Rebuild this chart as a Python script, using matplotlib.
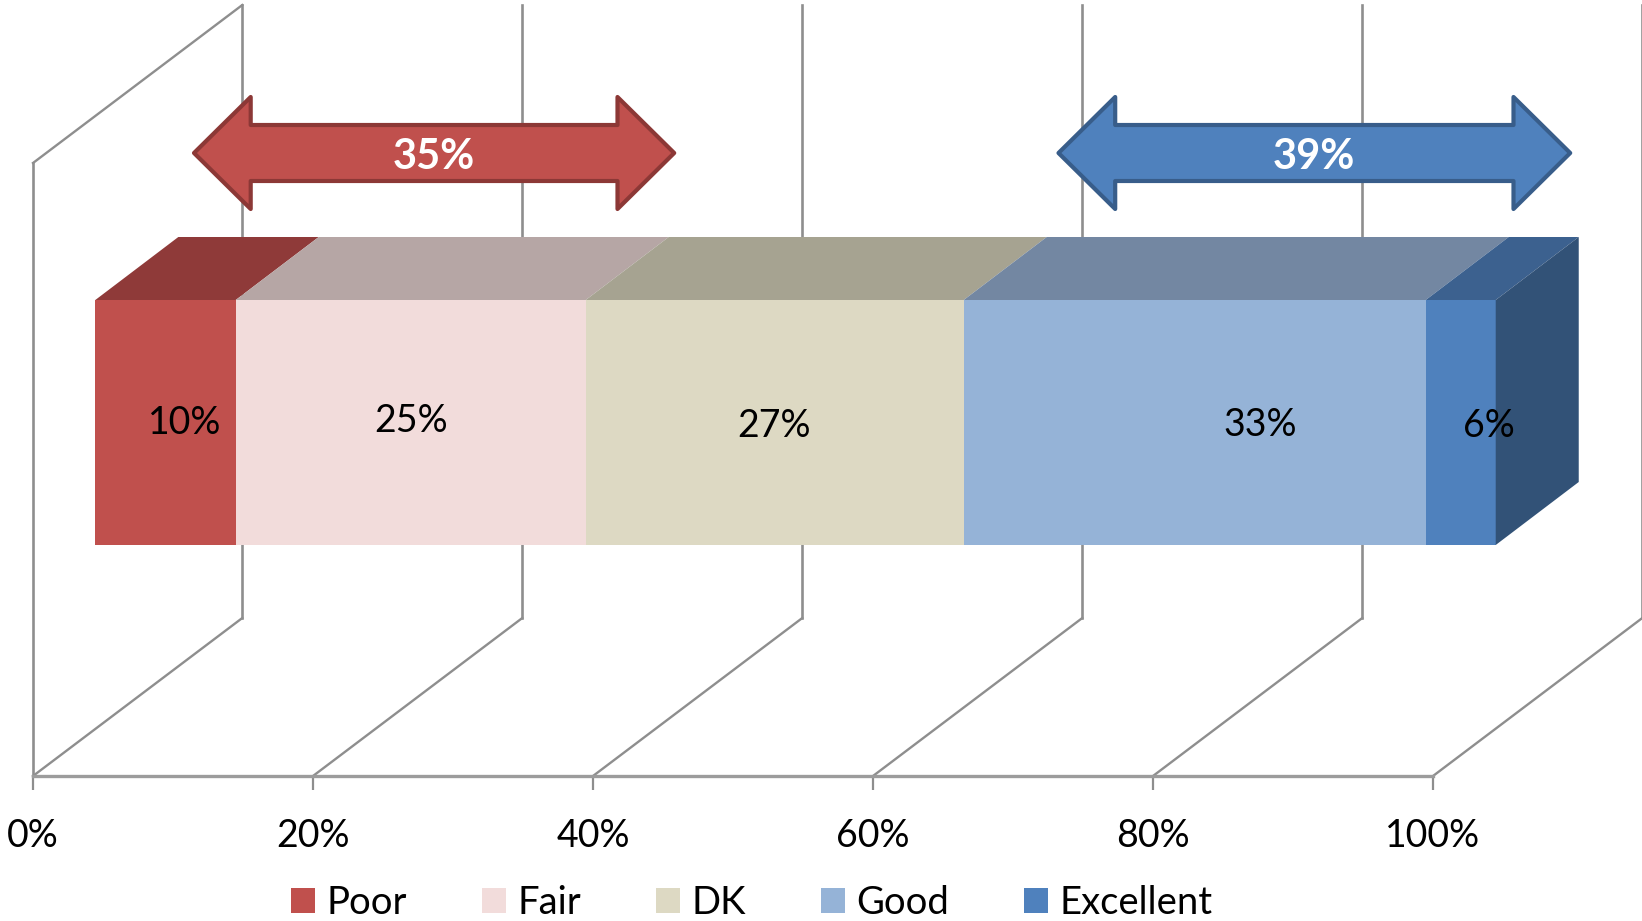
import matplotlib
matplotlib.use("Agg")
import matplotlib.pyplot as plt
import numpy as np
from matplotlib.patches import Polygon

plt.rcParams["font.family"] = ["Lato", "DejaVu Sans"]

# data
categories = ["Poor", "Fair", "DK", "Good", "Excellent"]
shares = [10.03, 25.0, 27.0, 33.0, 5.0]
share_labels = ["10%", "25%", "27%", "33%", "6%"]
tick_values = [0, 20, 40, 60, 80, 100]
tick_labels = ["0%", "20%", "40%", "60%", "80%", "100%"]
span_labels = ["35%", "39%"]
span_starts = [11.5, 73.25]
span_ends = [45.8, 109.8]

# styles
front_colors = ["#C0504D", "#F2DCDB", "#DDD9C3", "#95B3D7", "#4F81BD"]
top_colors = ["#8F3A39", "#B6A6A5", "#A6A391", "#7387A2", "#3C618F"]
side_color = "#325277"
span_fills = ["#C0504D", "#4F81BD"]
span_edges = ["#8C3836", "#385D8A"]
grid_color = "#8E8E8E"
label_x = [10.8, 27.0, 52.9, 87.65, 104.0]
label_y = [423, 421, 426, 425, 426]

# y is measured downward from the top of the canvas, x is in percent
PX_PER_PCT = 14.0
X0_PX = 33
floor_y = 776
back_floor_y = 618
wall_top_front = 163
wall_top_back = 5
wall_dx = 14.95
bar_start = 4.45
bar_top = 300
bar_bottom = 545
depth_x = 5.93
depth_y = 63

fig = plt.figure(figsize=(16.42, 9.21), dpi=100)
ax = fig.add_axes([0, 0, 1, 1])
ax.set_xlim(-X0_PX / PX_PER_PCT, (1642 - X0_PX) / PX_PER_PCT)
ax.set_ylim(921, 0)

# back wall and floor lines
for v in tick_values:
    ax.plot([v, v + wall_dx], [floor_y, back_floor_y], color=grid_color, lw=1.7, zorder=1)
    ax.plot([v + wall_dx] * 2, [back_floor_y, wall_top_back], color=grid_color, lw=1.9, zorder=1)
ax.plot([0, 0], [floor_y, wall_top_front], color=grid_color, lw=1.9, zorder=1)
ax.plot([0, wall_dx], [wall_top_front, wall_top_back], color=grid_color, lw=1.7, zorder=1)

# stacked bar with its top and side faces
lefts = bar_start + np.concatenate([[0], np.cumsum(shares)[:-1]])
for left, w, cat, fc, tc in zip(lefts, shares, categories, front_colors, top_colors):
    ax.barh((bar_top + bar_bottom) / 2, w, left=left, height=bar_bottom - bar_top,
            color=fc, edgecolor="none", label=cat, zorder=3)
    ax.add_patch(Polygon([(left, bar_top), (left + w, bar_top),
                          (left + w + depth_x, bar_top - depth_y), (left + depth_x, bar_top - depth_y)],
                         closed=True, facecolor=tc, edgecolor="none", zorder=3))
bar_end = lefts[-1] + shares[-1]
ax.add_patch(Polygon([(bar_end, bar_top), (bar_end + depth_x, bar_top - depth_y),
                      (bar_end + depth_x, bar_bottom - depth_y), (bar_end, bar_bottom)],
                     closed=True, facecolor=side_color, edgecolor="none", zorder=3))

for x, y, s in zip(label_x, label_y, share_labels):
    ax.text(x, y, s, ha="center", va="center", fontsize=27, color="black", zorder=5)

# double headed span arrows
head_len = 4.05
arrow_mid = 153
shaft_half = 28
head_half = 56
for start, end, s, fc, ec in zip(span_starts, span_ends, span_labels, span_fills, span_edges):
    pts = [
        (start, arrow_mid),
        (start + head_len, arrow_mid - head_half),
        (start + head_len, arrow_mid - shaft_half),
        (end - head_len, arrow_mid - shaft_half),
        (end - head_len, arrow_mid - head_half),
        (end, arrow_mid),
        (end - head_len, arrow_mid + head_half),
        (end - head_len, arrow_mid + shaft_half),
        (start + head_len, arrow_mid + shaft_half),
        (start + head_len, arrow_mid + head_half),
    ]
    ax.add_patch(Polygon(pts, closed=True, facecolor=fc, edgecolor=ec, lw=3,
                         joinstyle="round", zorder=4))
    ax.text((start + end) / 2, arrow_mid + 4, s, ha="center", va="center", fontsize=30,
            fontweight="bold", color="white", zorder=5)

# real x axis, placed on the chart floor
for side in ["top", "left", "right"]:
    ax.spines[side].set_visible(False)
ax.spines["bottom"].set_position(("data", floor_y))
ax.spines["bottom"].set_bounds(0, 100)
ax.spines["bottom"].set_color("#9C9C9C")
ax.spines["bottom"].set_linewidth(2.4)
ax.set_xticks(tick_values)
ax.set_xticklabels(tick_labels, fontsize=27)
ax.tick_params(axis="x", length=10, width=1.6, color=grid_color, pad=20, labelcolor="black")
ax.set_yticks([])

ax.legend(loc="lower center", bbox_to_anchor=(752 / 1642, 0.0), ncol=5, frameon=False,
          fontsize=27.5, handlelength=0.64, handleheight=0.64, handletextpad=0.3,
          columnspacing=1.95, borderaxespad=0, borderpad=0)

fig.savefig("out.png", dpi=100)
